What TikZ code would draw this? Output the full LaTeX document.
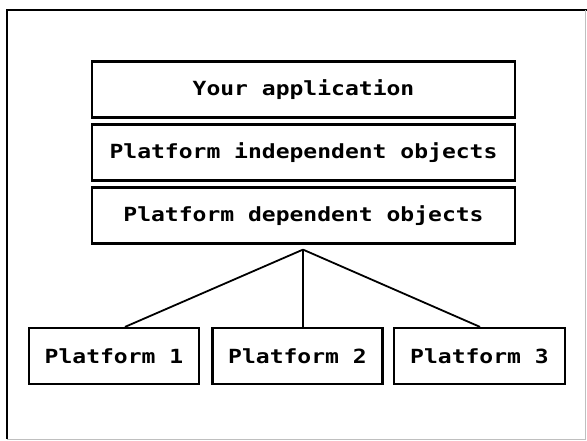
\documentclass[tikz,border=0pt]{standalone}
\usepackage{fontspec}
\newfontfamily\plotfont{DejaVu Sans Mono}[FakeBold=0]
\usetikzlibrary{calc}
\begin{document}
\begin{tikzpicture}[x=1pt,y=-1pt,
  box/.style={draw, line width=2.2pt, rectangle, inner sep=0pt, minimum height=56pt, anchor=center,
    font=\plotfont\bfseries\fontsize{19.5}{22}\selectfont},
  wide/.style={box, minimum width=423pt},
  plat/.style={box, minimum width=170pt},
  link/.style={line width=1.8pt}]
\useasboundingbox (0,0) rectangle (587,441);
\fill[white] (0,0) rectangle (587,441);
% outer frame
\draw[line width=2.4pt] (7,439) -- (7,10) -- (587,10);
\draw[line width=1pt, black!25] (7,439) -- (585,439) -- (585,10);
% stack
\node[wide] (app) at (303.5,89.5) {\scalebox{1.18}[1]{Your application}};
\node[wide] (ind) at (303.5,152.5) {\scalebox{1.18}[1]{Platform independent objects}};
\node[wide] (dep) at (303.5,215.5) {\scalebox{1.18}[1]{Platform dependent objects}};
% platforms
\node[plat] (p1) at (114,356) {\scalebox{1.18}[1]{Platform 1}};
\node[plat] (p2) at (297.5,356) {\scalebox{1.18}[1]{Platform 2}};
\node[plat, minimum width=171pt] (p3) at (479.5,356) {\scalebox{1.18}[1]{Platform 3}};
% connectors
\coordinate (j) at ($(dep.south)+(-0.5,5)$);
\draw[link] (j) -- ($(p1.north)+(11,0)$);
\draw[link] (j) -- ($(p2.north)+(5.5,0)$);
\draw[link] (j) -- ($(p3.north)+(0.5,0)$);
\end{tikzpicture}
\end{document}
